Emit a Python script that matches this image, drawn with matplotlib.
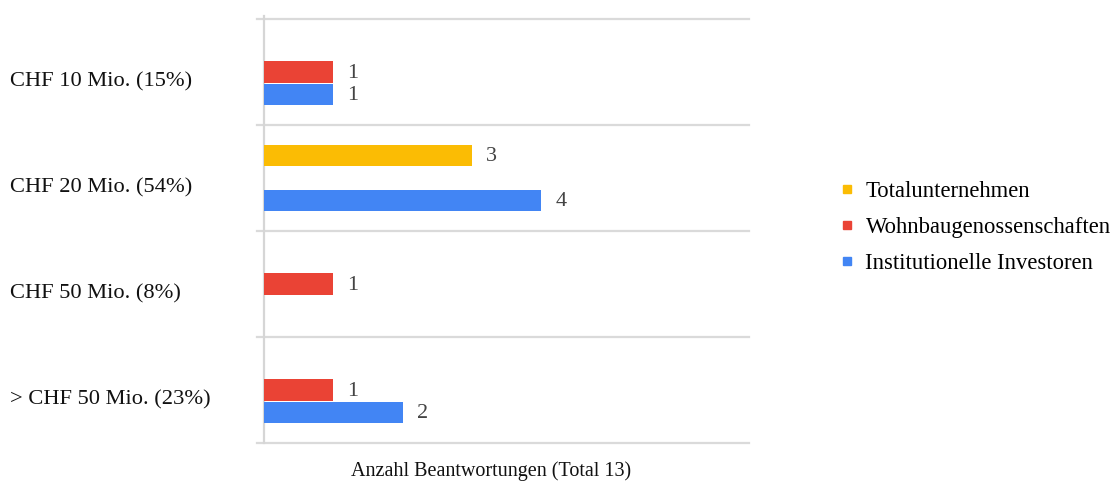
import matplotlib
matplotlib.use("Agg")
import matplotlib.pyplot as plt
from matplotlib.lines import Line2D
from matplotlib.transforms import blended_transform_factory, offset_copy

plt.rcParams['font.family'] = ['Liberation Serif', 'DejaVu Serif']

categories = ["CHF 10 Mio. (15%)", "CHF 20 Mio. (54%)", "CHF 50 Mio. (8%)", "> CHF 50 Mio. (23%)"]
series_names = ["Totalunternehmen", "Wohnbaugenossenschaften", "Institutionelle Investoren"]
totalunternehmen = [0, 3, 0, 0]
wohnbaugenossenschaften = [1, 0, 1, 1]
institutionelle = [1, 4, 0, 2]
colors = ["#FBBC04", "#EA4335", "#4285F4"]
x_label = "Anzahl Beantwortungen (Total 13)"

W, H = 1112, 482
fig = plt.figure(figsize=(W / 100, H / 100), dpi=100)
ax = fig.add_axes([264 / W, 1 - 443 / H, (749 - 264) / W, (443 - 19) / H])

series = [totalunternehmen, wohnbaugenossenschaften, institutionelle]
offsets = [-0.21, 0.0, 0.21]
bar_h = 0.2
fs = 16

for vals, off, col in zip(series, offsets, colors):
    for i, v in enumerate(vals):
        if v == 0:
            continue
        y = i + off
        ax.barh(y, v, height=bar_h, color=col, left=0, zorder=3)
        tr = offset_copy(ax.transData, fig=fig, x=14, y=-1, units='dots')
        ax.text(v, y, str(v), transform=tr, ha='left', va='center',
                fontsize=fs, color='#444444')

ax.set_xlim(0, 7)
ax.set_ylim(len(categories) - 0.5, -0.5)
ax.set_xticks([])
ax.set_yticks([])
for s in ax.spines.values():
    s.set_visible(False)

# category separators with short stubs to the left of the axis
for yb in [k - 0.5 for k in range(len(categories) + 1)]:
    ax.axhline(yb, xmin=-7 / 485, xmax=1, color='#dadada', lw=1.6,
               clip_on=False, zorder=1)
ax.plot([0.001, 0.001], [-0.53, len(categories) - 0.5],
        transform=blended_transform_factory(ax.transAxes, ax.transData),
        color='#d6d6d6', lw=1.6, clip_on=False, zorder=2)

# category labels on the far left
lab_tr = blended_transform_factory(fig.transFigure, ax.transData)
lab_tr = offset_copy(lab_tr, fig=fig, x=0, y=-10, units='dots')
for i, c in enumerate(categories):
    ax.text(10 / W, i, c, transform=lab_tr, ha='left', va='center',
            fontsize=16.2, color='#111111')

fig.text(491 / W, 1 - 471 / H, x_label, ha='center', va='center',
         fontsize=14.5, color='#111111')

handles = [Line2D([], [], marker='s', linestyle='none', markersize=6.3,
                  markerfacecolor=c, markeredgecolor=c) for c in colors]
fig.legend(handles, series_names, loc='center left',
           bbox_to_anchor=(827 / W, 1 - 227.5 / H), frameon=False,
           fontsize=16.3, handlelength=0.78, handletextpad=0.42,
           labelspacing=0.68, borderpad=0)

fig.savefig("out.png", dpi=100)
